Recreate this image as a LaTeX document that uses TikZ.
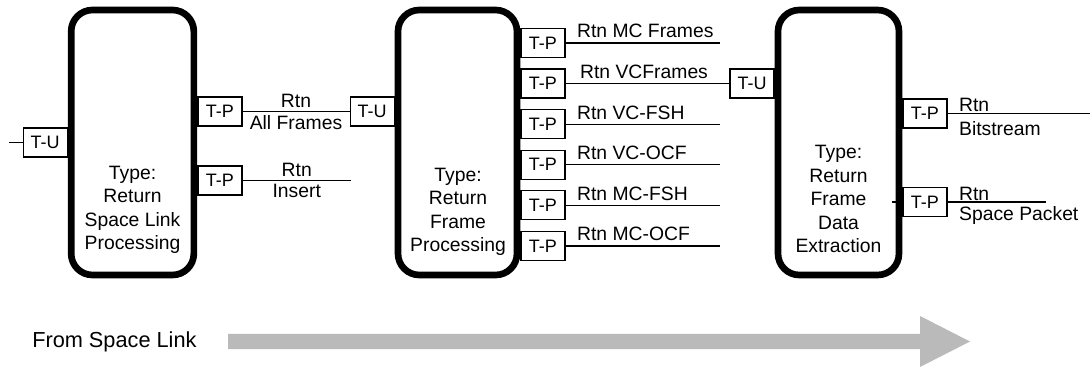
\documentclass[tikz,border=0pt]{standalone}
\usepackage{fontspec}
\setmainfont{Liberation Sans}
\usetikzlibrary{positioning, calc}

\begin{document}
\begin{tikzpicture}[
        x=0.75pt, y=-0.75pt,
        node distance=7.8pt,
        block/.style={rectangle, rounded corners=16pt, draw=black, line width=5pt, minimum width=92pt, minimum height=198.75pt},
        blocktext/.style={align=center, anchor=south, inner sep=0pt, font=\fontsize{14.5}{17.6}\selectfont},
        port/.style={rectangle, draw=black, line width=0.9pt, fill=white, minimum width=33pt, minimum height=21.75pt, inner sep=0pt, font=\fontsize{13.5}{16}\selectfont},
        link/.style={line width=0.9pt, black},
        lbl/.style={inner sep=2.5pt, font=\fontsize{14.5}{17}\selectfont},
        portlbl/.style={lbl, pos=0, anchor=base west, xshift=5.75pt, yshift=3.75pt},
        flow/.style={fill=black!27}
    ]
        \useasboundingbox (0,0) rectangle (1090,367);

        % processing blocks
        \node[block] (rslp) at (132.5,142.5) {};
        \node[block, minimum width=89.25pt] (rfp) at (457.5,142.5) {};
        \node[block, minimum width=90.75pt] (rfde) at (838.5,142.5) {};
        \node[blocktext] (rslptext) at (132.5,254) {Type:\\Return\\Space Link\\Processing};
        \node[blocktext] (rfptext) at (458,256) {Type:\\Return\\Frame\\Processing};
        \node[blocktext] (rfdetext) at (838.5,253) {Type:\\Return\\Frame\\Data\\Extraction};

        % return space link processing
        \node[port, anchor=east] (rslptu) at (rslp.west) {T-U};
        \coordinate (slin) at (9,142.5);
        \draw[link] (slin) -- (rslptu);
        \node[port, anchor=west] (rslpall) at (197.3,111.5) {T-P};
        \node[port, anchor=west] (rslpins) at (197.3,180.5) {T-P};
        \node[port, anchor=east] (rfptu) at (394.7,111.5) {T-U};
        \draw[link] (rslpall) -- (rfptu) node[lbl, midway, above] {Rtn} node[lbl, midway, below] {All Frames};
        \coordinate (insend) at (351,180.5);
        \draw[link] (rslpins) -- (insend) node[lbl, midway, above] {Rtn} node[lbl, midway, below] {Insert};

        % return frame processing
        \node[port, anchor=west] (rfpmc) at (520.3,43) {T-P};
        \node[port, below=of rfpmc] (rfpvc) {T-P};
        \node[port, below=of rfpvc] (rfpvcfsh) {T-P};
        \node[port, below=of rfpvcfsh] (rfpvcocf) {T-P};
        \node[port, below=of rfpvcocf] (rfpmcfsh) {T-P};
        \node[port, below=of rfpmcfsh] (rfpmcocf) {T-P};
        \node[port, anchor=east] (rfdetu) at (rfpvc -| rfde.west) {T-U};
        \coordinate (mcend) at (rfpmc -| 720,0);
        \coordinate (vcfshend) at (rfpvcfsh -| 720,0);
        \coordinate (vcocfend) at (rfpvcocf -| 720,0);
        \coordinate (mcfshend) at (rfpmcfsh -| 720,0);
        \coordinate (mcocfend) at (rfpmcocf -| 720,0);
        \draw[link] (rfpmc) -- (mcend) node[portlbl] {Rtn MC Frames};
        \draw[link] (rfpvc) -- (rfdetu) node[portlbl, xshift=2.25pt] {Rtn VCFrames};
        \draw[link] (rfpvcfsh) -- (vcfshend) node[portlbl] {Rtn VC-FSH};
        \draw[link] (rfpvcocf) -- (vcocfend) node[portlbl] {Rtn VC-OCF};
        \draw[link] (rfpmcfsh) -- (mcfshend) node[portlbl] {Rtn MC-FSH};
        \draw[link] (rfpmcocf) -- (mcocfend) node[portlbl] {Rtn MC-OCF};

        % return frame data extraction
        \node[port, anchor=west] (rfdebit) at (902.3,113.5) {T-P};
        \node[port, anchor=west] (rfdesp) at (902.3,202) {T-P};
        \coordinate (bitend) at (1090,113.5);
        \coordinate (spend) at (1046,202);
        \coordinate (sptick) at (892,202);
        \draw[link] (rfdebit) -- (bitend)
            node[lbl, pos=0, anchor=base west, xshift=5.75pt, yshift=1.2pt] {Rtn}
            node[lbl, pos=0, anchor=north west, xshift=5.75pt, yshift=-3pt] {Bitstream};
        \draw[link] (sptick) -- (rfdesp);
        \draw[link] (rfdesp) -- (spend)
            node[lbl, pos=0, anchor=base west, xshift=5.75pt, yshift=1.2pt] {Rtn}
            node[lbl, pos=0, anchor=north west, xshift=5.75pt, yshift=-0.5pt] {Space Packet};

        % direction of flow
        \node[anchor=base west, inner sep=0pt, font=\fontsize{16.3}{19}\selectfont] (fromsl) at (32,348) {From Space Link};
        \fill[flow] (228,334) -- (920,334) -- (920,316) -- (970,341.5) -- (920,367) -- (920,349) -- (228,349) -- cycle;
    \end{tikzpicture}
\end{document}
